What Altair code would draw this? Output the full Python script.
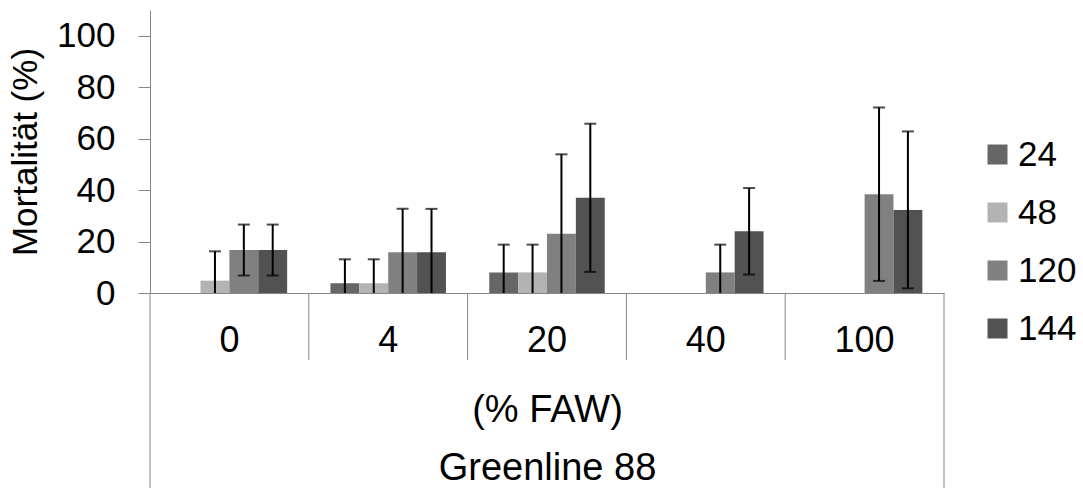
import altair as alt
import pandas as pd

cats = ["0", "4", "20", "40", "100"]
series = ["24", "48", "120", "144"]
colors = ["#666666", "#b3b3b3", "#808080", "#525252"]

m24 = [0, 3.8, 8, 0, 0]
m48 = [4.8, 3.8, 8, 0, 0]
m120 = [16.7, 15.8, 23, 8, 38.4]
m144 = [16.7, 15.8, 37, 24, 32.3]
e24 = [0, 9.3, 10.8, 0, 0]
e48 = [11.4, 9.3, 10.8, 0, 0]
e120 = [9.9, 16.9, 30.9, 10.8, 33.7]
e144 = [9.9, 16.9, 28.8, 16.8, 30.5]

means = {"24": m24, "48": m48, "120": m120, "144": m144}
errs = {"24": e24, "48": e48, "120": e120, "144": e144}

rows = []
for s in series:
    for i, c in enumerate(cats):
        m = means[s][i]
        e = errs[s][i]
        rows.append({"cat": c, "series": s, "mean": m, "err": e,
                     "lo": max(0.0, m - e), "hi": m + e, "lowcap": (m - e) > 0})
df = pd.DataFrame(rows)
catdf = pd.DataFrame({"cat": cats})

W, H = 794, 283
FONT = "Liberation Sans"
AX = "#868686"

xscale = alt.Scale(domain=cats, paddingInner=0, paddingOuter=0)
offscale = alt.Scale(domain=series, paddingInner=0, paddingOuter=0.75)
yscale = alt.Scale(domain=[0, 110], nice=False)

x_enc = alt.X("cat:N", scale=xscale, sort=cats,
              axis=alt.Axis(title=["(% FAW)", "Greenline 88"], titleFontSize=38,
                            titleFont=FONT, titleFontWeight="normal", titleColor="black",
                            titleLineHeight=58, titlePadding=33,
                            labelFontSize=36, labelFont=FONT, labelColor="black",
                            labelAngle=0, labelPadding=30, ticks=False, tickSize=0,
                            domainColor=AX, domainWidth=1))

bars = alt.Chart(df).mark_bar().encode(
    x=x_enc,
    xOffset=alt.XOffset("series:N", scale=offscale, sort=series),
    y=alt.Y("mean:Q", scale=yscale,
            axis=alt.Axis(values=[0, 20, 40, 60, 80, 100], grid=False,
                          title="Mortalität (%)", titleFontSize=35, titleFont=FONT,
                          titleFontWeight="normal", titleColor="black", titlePadding=13,
                          labelFontSize=35, labelFont=FONT, labelColor="black",
                          labelPadding=23, tickSize=12, tickColor=AX, domainColor=AX,
                          domainWidth=1, tickWidth=1)),
    color=alt.Color("series:N", sort=series,
                    scale=alt.Scale(domain=series, range=colors),
                    legend=alt.Legend(title=None, orient="none", legendX=830, legendY=127,
                                      symbolType="square", symbolSize=400,
                                      symbolStrokeWidth=0, symbolOpacity=1,
                                      labelFontSize=35, labelFont=FONT, labelColor="black",
                                      labelOffset=3, rowPadding=22, padding=0)),
)

errdf = alt.Chart(df).transform_filter("datum.err > 0")

vlines = errdf.mark_rule(color="black", strokeWidth=2).encode(
    x=alt.X("cat:N", scale=xscale, sort=cats),
    xOffset=alt.XOffset("series:N", scale=offscale, sort=series),
    y=alt.Y("lo:Q", scale=yscale),
    y2="hi:Q",
)

topcaps = errdf.mark_tick(color="black", thickness=2, size=12, orient="horizontal").encode(
    x=alt.X("cat:N", scale=xscale, sort=cats),
    xOffset=alt.XOffset("series:N", scale=offscale, sort=series),
    y=alt.Y("hi:Q", scale=yscale),
)

lowcaps = alt.Chart(df).transform_filter("datum.lowcap").mark_tick(
    color="black", thickness=2, size=12, orient="horizontal").encode(
    x=alt.X("cat:N", scale=xscale, sort=cats),
    xOffset=alt.XOffset("series:N", scale=offscale, sort=series),
    y=alt.Y("lo:Q", scale=yscale),
)

seps = alt.Chart(catdf).transform_filter("datum.cat != '0'").mark_rule(
    color=AX, strokeWidth=1).encode(
    x=alt.X("cat:N", scale=xscale, sort=cats, bandPosition=0),
    y=alt.value(H), y2=alt.value(H + 67),
)

leftline = alt.Chart(catdf).transform_filter("datum.cat == '0'").mark_rule(
    color=AX, strokeWidth=1).encode(
    x=alt.X("cat:N", scale=xscale, sort=cats, bandPosition=0),
    y=alt.value(H), y2=alt.value(H + 195),
)

rightline = alt.Chart(catdf).transform_filter("datum.cat == '100'").mark_rule(
    color=AX, strokeWidth=1).encode(
    x=alt.X("cat:N", scale=xscale, sort=cats, bandPosition=1),
    y=alt.value(H), y2=alt.value(H + 195),
)

chart = alt.layer(bars, vlines, topcaps, lowcaps, seps, leftline, rightline).properties(
    width=W, height=H,
    autosize=alt.AutoSizeParams(type="none"),
    padding={"left": 150, "top": 10, "right": 139, "bottom": 195},
    background="white",
).configure_view(stroke=None)

chart.save("out.html", embed_options={"renderer": "svg", "actions": False})
